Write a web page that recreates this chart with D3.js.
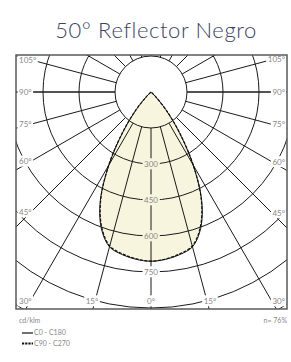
<!DOCTYPE html>
<html>
<head>
<meta charset="utf-8">
<script src="https://cdn.jsdelivr.net/npm/d3@7"></script>
<style>
  body { margin: 0; background: #fff; }
  svg { display: block; }
</style>
</head>
<body>
<div id="chart"></div>
<script>
// Photometric data (cd/klm)
var title = "50\u00b0 Reflector Negro"
var gammaAngles = [0, 5, 10, 15, 20, 25, 30, 35, 40, 45, 50, 55]
var c0c180 = [705, 700, 688, 668, 605, 500, 350, 205, 95, 25, 0, 0]
var c90c270 = [705, 698, 685, 664, 600, 496, 354, 209, 99, 28, 0, 0]
var ringValues = [150, 300, 450, 600, 750, 900, 1050, 1200]
var ringLabels = [300, 450, 600, 750]
var rayAngles = [0, 15, 30, 45, 60, 75, 90, 105, 120, 135, 150, 165, 180]
var sideLabels = [45, 60, 75, 90, 105]
var bottomLabels = [0, 15]
var efficiency = "n= 76%"
var unitLabel = "cd/klm"
var legendNames = ["C0 - C180", "C90 - C270"]

var width = 291
var height = 362
var frame = {x: 16, y: 55, w: 271, h: 254}
var ox = 151, oy = 92
var rad = Math.PI / 180

var svg = d3.select("#chart")
            .append("svg")
            .attr("width", width)
            .attr("height", height)

// Radial scale: value -> pixels
var rscale = d3.scaleLinear().domain([0, 900]).range([0, 216])

var defs = svg.append("defs")
defs.append("clipPath").attr("id", "frameclip")
  .append("rect")
  .attr("x", frame.x).attr("y", frame.y)
  .attr("width", frame.w).attr("height", frame.h)

var mask = defs.append("mask").attr("id", "knockout")
  .attr("maskUnits", "userSpaceOnUse")
  .attr("x", 0).attr("y", 0).attr("width", width).attr("height", height)
mask.append("rect").attr("width", width).attr("height", height).attr("fill", "#fff")

// Title
svg.append("text")
  .attr("x", 156)
  .attr("y", 38)
  .attr("text-anchor", "middle")
  .style("font-family", "Lato, 'Noto Sans', sans-serif")
  .style("font-weight", 300)
  .style("font-size", "22px")
  .style("letter-spacing", "0.6px")
  .style("fill", "#3d4262")
  .text(title)

var plot = svg.append("g").attr("clip-path", "url(#frameclip)")

// Photometric curves: angle from nadir, left side mirrored
function curvePoints(values){
  var pts = []
  for (var i = gammaAngles.length - 1; i >= 0; i--) pts.push([Math.PI + gammaAngles[i] * rad, rscale(values[i])])
  for (var j = 1; j < gammaAngles.length; j++) pts.push([Math.PI - gammaAngles[j] * rad, rscale(values[j])])
  return pts
}
var radial = d3.lineRadial()
  .angle(function(d){ return d[0] })
  .radius(function(d){ return d[1] })
  .curve(d3.curveCatmullRom)

var fillLayer = plot.append("g").attr("transform", "translate(" + ox + "," + oy + ")")
fillLayer.append("path")
  .attr("d", radial(curvePoints(c0c180)) + "Z")
  .attr("fill", "#f8f5de")
  .attr("stroke", "none")

// Grid: rings and rays, with gaps under the labels
var grid = plot.append("g").attr("mask", "url(#knockout)")
  .append("g")
  .attr("transform", "translate(" + ox + "," + oy + ")")
grid.selectAll("circle.ring")
  .data(ringValues)
  .enter()
  .append("circle")
  .attr("class", "ring")
  .attr("r", function(d){ return rscale(d) })
  .attr("fill", "none")
  .attr("stroke", "#1a1a1a")
  .attr("stroke-width", 1)

var rays = []
rayAngles.forEach(function(a){
  rays.push(a)
  if (a > 0 && a < 180) rays.push(-a)
})
grid.selectAll("line.ray")
  .data(rays)
  .enter()
  .append("line")
  .attr("class", "ray")
  .attr("x1", function(d){ return rscale(150) * Math.sin(d * rad) })
  .attr("y1", function(d){ return rscale(150) * Math.cos(d * rad) })
  .attr("x2", function(d){ return 400 * Math.sin(d * rad) })
  .attr("y2", function(d){ return 400 * Math.cos(d * rad) })
  .attr("stroke", "#1a1a1a")
  .attr("stroke-width", function(d){ return Math.abs(d) == 90 ? 1.3 : 1 })

// Outlines
var outline = plot.append("g").attr("transform", "translate(" + ox + "," + oy + ")")
outline.append("path")
  .attr("d", radial(curvePoints(c0c180)) + "Z")
  .attr("fill", "none")
  .attr("stroke", "#111")
  .attr("stroke-width", 1)
outline.append("path")
  .attr("d", radial(curvePoints(c90c270)) + "Z")
  .attr("fill", "none")
  .attr("stroke", "#111")
  .attr("stroke-width", 1.2)
  .attr("stroke-dasharray", "3,1.5")

// Frame
svg.append("rect")
  .attr("x", frame.x).attr("y", frame.y)
  .attr("width", frame.w).attr("height", frame.h)
  .attr("fill", "none")
  .attr("stroke", "#5a5a5a")
  .attr("stroke-width", 1.5)

// Labels
var labelData = []
ringLabels.forEach(function(v){
  labelData.push({text: String(v), x: ox, y: oy + rscale(v), anchor: "middle"})
})
sideLabels.forEach(function(a){
  var cot = Math.cos(a * rad) / Math.sin(a * rad)
  labelData.push({text: a + "\u00b0", x: 19, y: oy + (ox - 31) * cot, anchor: "start"})
  labelData.push({text: a + "\u00b0", x: 285, y: oy + (272 - ox) * cot, anchor: "end"})
})
bottomLabels.forEach(function(a){
  var dx = (312 - oy) * Math.tan(a * rad)
  labelData.push({text: a + "\u00b0", x: ox - dx, y: 301, anchor: "middle"})
  if (a > 0) labelData.push({text: a + "\u00b0", x: ox + dx, y: 301, anchor: "middle"})
})
labelData.push({text: "30\u00b0", x: 19, y: 301, anchor: "start"})
labelData.push({text: "30\u00b0", x: 285, y: 301, anchor: "end"})

var labels = svg.append("g")
  .selectAll("text")
  .data(labelData)
  .enter()
  .append("text")
  .attr("x", function(d){ return d.x })
  .attr("y", function(d){ return d.y })
  .attr("dy", "0.35em")
  .attr("text-anchor", function(d){ return d.anchor })
  .style("font-family", "Lato, 'Noto Sans', sans-serif")
  .style("font-size", "8px")
  .style("fill", "#888")
  .text(function(d){ return d.text })

labels.each(function(){
  var b = this.getBBox()
  mask.append("rect")
    .attr("x", b.x - 1.5).attr("y", b.y - 0.5)
    .attr("width", b.width + 3).attr("height", b.height + 1)
    .attr("fill", "#000")
})

// Footer and legend
var footer = svg.append("g")
  .style("font-family", "Lato, 'Noto Sans', sans-serif")
  .style("font-size", "7px")
  .style("fill", "#888")
footer.append("text").attr("x", 19).attr("y", 323).text(unitLabel)
footer.append("text").attr("x", 287).attr("y", 323).attr("text-anchor", "end").text(efficiency)

var legend = svg.append("g")
legendNames.forEach(function(name, i){
  var y = 333 + i * 10.5
  legend.append("line")
    .attr("x1", 22).attr("x2", 33)
    .attr("y1", y).attr("y2", y)
    .attr("stroke", "#111")
    .attr("stroke-width", i == 0 ? 1.2 : 2.2)
    .attr("stroke-dasharray", i == 0 ? null : "2.2,1")
  legend.append("text")
    .attr("x", 34).attr("y", y)
    .attr("dy", "0.35em")
    .style("font-family", "Lato, 'Noto Sans', sans-serif")
    .style("font-size", "7px")
    .style("fill", "#888")
    .text(name)
})
</script>
</body>
</html>
